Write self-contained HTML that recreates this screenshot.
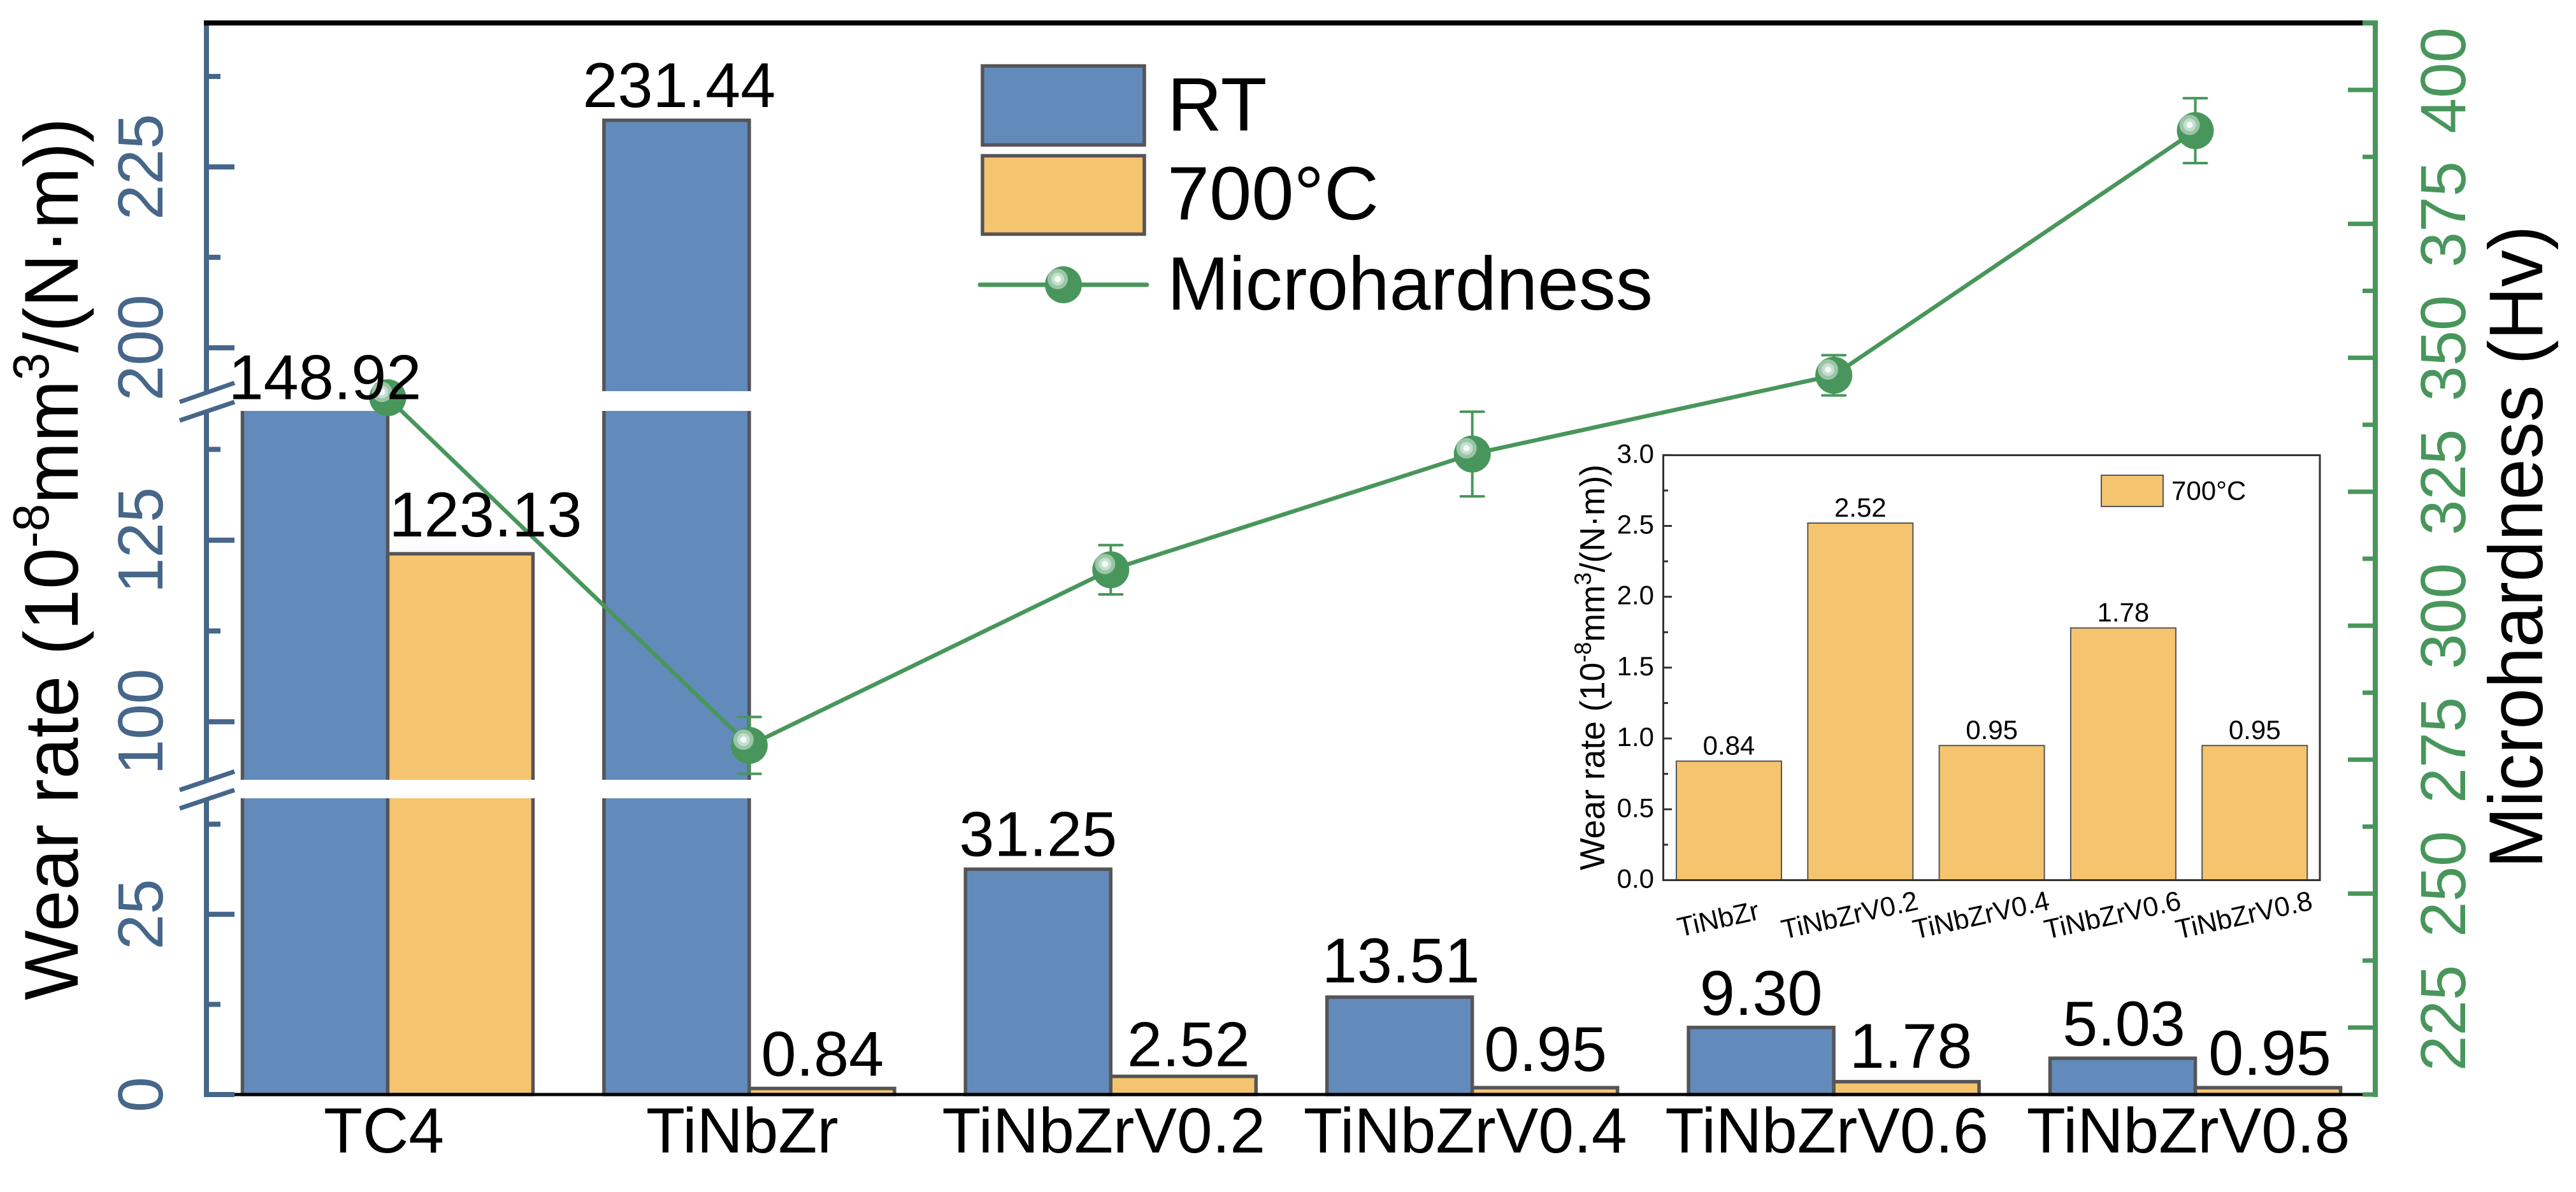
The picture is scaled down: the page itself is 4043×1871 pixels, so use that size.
<!DOCTYPE html>
<html lang="en">
<head>
<meta charset="utf-8">
<title>Wear rate and microhardness chart</title>
<style>
html,body{margin:0;padding:0;background:#fff;}
svg{display:block;font-family:"Liberation Sans",sans-serif;}
</style>
</head>
<body>
<svg id="chart" xmlns="http://www.w3.org/2000/svg" width="4043" height="1871" viewBox="0 0 4043 1871">
<rect x="0" y="0" width="4043" height="1871" fill="#fff"/>
<g id="bars"></g>
<g id="axes"></g>
<g id="inset"></g>
<g id="series"></g>
<g id="labels"></g>

<text transform="translate(122,1570) rotate(-90)" font-size="120" textLength="1385" lengthAdjust="spacingAndGlyphs" fill="#000">Wear rate (10<tspan dy="-46" font-size="80">-8</tspan><tspan dy="46">mm</tspan><tspan dy="-46" font-size="80">3</tspan><tspan dy="46">/(N·m))</tspan></text>
<text transform="translate(3990,1363) rotate(-90)" font-size="120" textLength="1009" lengthAdjust="spacingAndGlyphs" fill="#000">Microhardness (Hv)</text>

<g>
<rect x="1542" y="103.5" width="254" height="124" fill="#628BBB" stroke="#555558" stroke-width="5.5"/>
<rect x="1542" y="244.5" width="254" height="123" fill="#F5C46E" stroke="#555558" stroke-width="5.5"/>
<line x1="1538" y1="447" x2="1800" y2="447" stroke="#48965B" stroke-width="7" stroke-linecap="round"/>
<g>
<circle cx="1669" cy="447" r="29" fill="#48965B"/>
<circle cx="1660" cy="438" r="16" fill="#9BC5A8"/>
<circle cx="1660" cy="438" r="10" fill="#C5DFCE"/>
<circle cx="1660" cy="438" r="5" fill="#F5FBF7"/>
</g>
<text x="1832" y="205" font-size="119" fill="#000">RT</text>
<text x="1832" y="344.5" font-size="119" fill="#000">700°C</text>
<text x="1832" y="486" font-size="119" textLength="762" lengthAdjust="spacingAndGlyphs" fill="#000">Microhardness</text>
</g>
</svg>

<script>
const categories = ["TC4", "TiNbZr", "TiNbZrV0.2", "TiNbZrV0.4", "TiNbZrV0.6", "TiNbZrV0.8"];
const rtValues = [148.92, 231.44, 31.25, 13.51, 9.30, 5.03];
const hotValues = [123.13, 0.84, 2.52, 0.95, 1.78, 0.95];
const hardnessValues = [342.55, 277.66, 310.44, 332.04, 346.74, 392.4];
const hardnessErrors = [2.5, 5.3, 4.6, 7.9, 3.75, 6.06];

const leftMajorTicks = [0, 25, 100, 125, 200, 225];
const leftMinorTicks = [12.5, 37.5, 112.5, 137.5, 212.5, 237.5];
const rightMajorTicks = [225, 250, 275, 300, 325, 350, 375, 400];
const rightMinorTicks = [212.5, 237.5, 262.5, 287.5, 312.5, 337.5, 362.5, 387.5];

const insetCategories = ["TiNbZr", "TiNbZrV0.2", "TiNbZrV0.4", "TiNbZrV0.6", "TiNbZrV0.8"];
const insetValues = [0.84, 2.52, 0.95, 1.78, 0.95];
const insetMajorTicks = [0, 0.5, 1, 1.5, 2, 2.5, 3];
const insetMinorTicks = [0.25, 0.75, 1.25, 1.75, 2.25, 2.75];

const NS = "http://www.w3.org/2000/svg";
const BLUE = "#628BBB", ORANGE = "#F5C46E", EDGE = "#555558", AXIS_BLUE = "#46668A", GREEN = "#48965B";

function make(parent, tag, attrs, text) {
  const el = document.createElementNS(NS, tag);
  for (const k in attrs) el.setAttribute(k, attrs[k]);
  if (text !== undefined) el.textContent = text;
  parent.appendChild(el);
  return el;
}

/* broken left axis: piecewise linear scale, gaps sit between the segments */
const BREAK_DOMAIN = [0, 41, 92, 142.8, 194, 244.9];
const BREAK_RANGE = [1718, 1254, 1224, 645, 614, 36];
function yLeft(v) {
  let i = 0;
  while (i < BREAK_DOMAIN.length - 2 && v > BREAK_DOMAIN[i + 1]) i++;
  const t = (v - BREAK_DOMAIN[i]) / (BREAK_DOMAIN[i + 1] - BREAK_DOMAIN[i]);
  return BREAK_RANGE[i] + t * (BREAK_RANGE[i + 1] - BREAK_RANGE[i]);
}
function yRight(v) { return 1718 - (v - 212.5) * 8.41; }
function xCenter(i) { return 608.5 + 567.4 * i; }
function yInset(v) { return 1381.5 - v * 222.4; }
function xInset(i) { return 2713.5 + 206.3 * i; }

const BAR_W = 228;
const barsG = document.getElementById("bars");
const axesG = document.getElementById("axes");
const seriesG = document.getElementById("series");
const labelsG = document.getElementById("labels");
const insetG = document.getElementById("inset");

/* bars */
categories.forEach(function (c, i) {
  const cx = xCenter(i);
  const yr = yLeft(rtValues[i]);
  const yh = yLeft(hotValues[i]);
  const r = make(barsG, "rect", {x: cx - BAR_W, y: yr, width: BAR_W, height: 1718 - yr, fill: BLUE, stroke: EDGE, "stroke-width": 5.5});
  
  
  const h = make(barsG, "rect", {x: cx, y: yh, width: BAR_W, height: 1718 - yh, fill: ORANGE, stroke: EDGE, "stroke-width": 5.5});
  
  
});

/* white masks for the axis breaks */
const gapLow = make(barsG, "rect", {x: 334, y: 1224, width: 3370, height: 29, fill: "#fff"});


const gapHigh = make(barsG, "rect", {x: 334, y: 614, width: 3370, height: 31, fill: "#fff"});



/* frame lines */
const topLine = make(axesG, "line", {x1: 320, y1: 36, x2: 3710, y2: 36, stroke: "#000", "stroke-width": 8});


const xAxis = make(axesG, "line", {x1: 366, y1: 1718, x2: 3710, y2: 1718, stroke: "#000", "stroke-width": 5});



/* left axis */
[[40, 615], [645, 1225], [1254, 1722]].forEach(function (s) {
  const sp = make(axesG, "line", {x1: 324, y1: s[0], x2: 324, y2: s[1], stroke: AXIS_BLUE, "stroke-width": 8});
  
  
});
[[631, 601], [660, 631], [1240, 1211], [1269, 1240]].forEach(function (s) {
  const b = make(axesG, "line", {x1: 282, y1: s[0], x2: 368, y2: s[1], stroke: AXIS_BLUE, "stroke-width": 7});
  
  
});
leftMajorTicks.forEach(function (v) {
  const y = yLeft(v);
  const t = make(axesG, "line", {x1: 326, y1: y, x2: 368, y2: y, stroke: AXIS_BLUE, "stroke-width": 8});
  
  
  const l = make(axesG, "text", {transform: "translate(255," + y + ") rotate(-90)", "text-anchor": "middle", "font-size": 100, fill: AXIS_BLUE}, String(v));
  
  
});
leftMinorTicks.forEach(function (v) {
  const y = yLeft(v);
  const t = make(axesG, "line", {x1: 326, y1: y, x2: 346, y2: y, stroke: AXIS_BLUE, "stroke-width": 8});
  
  
});

/* right axis */
const rSpine = make(axesG, "line", {x1: 3728, y1: 32, x2: 3728, y2: 1722, stroke: GREEN, "stroke-width": 8});


const rTop = make(axesG, "line", {x1: 3708, y1: 36, x2: 3732, y2: 36, stroke: GREEN, "stroke-width": 8});


rightMajorTicks.forEach(function (v) {
  const y = yRight(v);
  const t = make(axesG, "line", {x1: 3685, y1: y, x2: 3726, y2: y, stroke: GREEN, "stroke-width": 7});
  
  
  const l = make(axesG, "text", {transform: "translate(3869," + (y - 15) + ") rotate(-90)", "text-anchor": "middle", "font-size": 100, fill: GREEN}, String(v));
  
  
});
rightMinorTicks.forEach(function (v) {
  const y = yRight(v);
  const t = make(axesG, "line", {x1: 3708, y1: y, x2: 3726, y2: y, stroke: GREEN, "stroke-width": 7});
  
  
});

/* x labels */
categories.forEach(function (c, i) {
  const l = make(labelsG, "text", {x: xCenter(i) - (i === 0 ? 6 : 11), y: 1809, "text-anchor": "middle", "font-size": 100, fill: "#000"}, c);
  
  
});

/* microhardness line, error bars, markers */
const linePts = hardnessValues.map(function (v, i) { return xCenter(i) + "," + yRight(v); }).join(" ");
const hl = make(seriesG, "polyline", {points: linePts, fill: "none", stroke: GREEN, "stroke-width": 6.5});


hardnessValues.forEach(function (v, i) {
  const x = xCenter(i);
  const top = yRight(v + hardnessErrors[i]);
  const bot = yRight(v - hardnessErrors[i]);
  const y = yRight(v);
  const g = make(seriesG, "g", {});
  
  
  make(g, "line", {x1: x, y1: top, x2: x, y2: bot, stroke: GREEN, "stroke-width": 4});
  make(g, "line", {x1: x - 18, y1: top, x2: x + 18, y2: top, stroke: GREEN, "stroke-width": 4, "stroke-linecap": "round"});
  make(g, "line", {x1: x - 18, y1: bot, x2: x + 18, y2: bot, stroke: GREEN, "stroke-width": 4, "stroke-linecap": "round"});
  make(g, "circle", {cx: x, cy: y, r: 29, fill: GREEN});
  make(g, "circle", {cx: x - 9, cy: y - 9, r: 16, fill: "#9BC5A8"});
  make(g, "circle", {cx: x - 9, cy: y - 9, r: 10, fill: "#C5DFCE"});
  make(g, "circle", {cx: x - 9, cy: y - 9, r: 5, fill: "#F5FBF7"});
});

/* value labels: hand-placed offsets from each bar */
const rtNudgeX = [15.5, 4, 0, 2, 0, 2], rtNudgeY = [-15, -21, -21, -23, -20, -20];
const hotNudgeX = [39.5, 1, 8, 1, 7, 3], hotNudgeY = [-27, -20, -16, -26, -22, -20];
rtValues.forEach(function (v, i) {
  const l = make(labelsG, "text", {x: xCenter(i) - 114 + rtNudgeX[i], y: yLeft(v) + rtNudgeY[i], "text-anchor": "middle", "font-size": 99, fill: "#000"}, v.toFixed(2));
  
  
});
hotValues.forEach(function (v, i) {
  const l = make(labelsG, "text", {x: xCenter(i) + 114 + hotNudgeX[i], y: yLeft(v) + hotNudgeY[i], "text-anchor": "middle", "font-size": 99, fill: "#000"}, v.toFixed(2));
  
  
});

/* inset */
const INK = "#333";
insetValues.forEach(function (v, i) {
  const x = xInset(i);
  const y = yInset(v);
  const b = make(insetG, "rect", {x: x - 82.5, y: y, width: 165, height: 1381.5 - y, fill: ORANGE, stroke: EDGE, "stroke-width": 2});
  
  
  const l = make(insetG, "text", {x: x, y: y - 10, "text-anchor": "middle", "font-size": 42, fill: "#000"}, v.toFixed(2));
  
  
  const cx = x - 17;
  const cy = 1436 + (i === 0 ? 6 : 0);
  const c = make(insetG, "text", {transform: "translate(" + cx + "," + cy + ") rotate(-12.5)", y: 15, "text-anchor": "middle", "font-size": 43, fill: "#000"}, insetCategories[i]);
  
  
});
const frame = make(insetG, "rect", {x: 2610.5, y: 714.5, width: 1030.5, height: 667, fill: "none", stroke: INK, "stroke-width": 3});


insetMajorTicks.forEach(function (v) {
  const y = yInset(v);
  const t = make(insetG, "line", {x1: 2610, y1: y, x2: 2624, y2: y, stroke: INK, "stroke-width": 3});
  
  
  const l = make(insetG, "text", {x: 2596, y: y + 12, "text-anchor": "end", "font-size": 42, fill: "#000"}, v.toFixed(1));
  
  
});
insetMinorTicks.forEach(function (v) {
  const y = yInset(v);
  const t = make(insetG, "line", {x1: 2610, y1: y, x2: 2618, y2: y, stroke: INK, "stroke-width": 3});
  
  
});
const insetSwatch = make(insetG, "rect", {x: 3298, y: 746, width: 97, height: 49, fill: ORANGE, stroke: EDGE, "stroke-width": 2});


const insetLegend = make(insetG, "text", {x: 3408, y: 784.5, "font-size": 42, fill: "#000"}, "700°C");


const insetTitle = make(insetG, "text", {transform: "translate(2518,1366) rotate(-90)", "font-size": 55, textLength: 637, lengthAdjust: "spacingAndGlyphs", fill: "#000"});


insetTitle.appendChild(document.createTextNode("Wear rate (10"));
make(insetTitle, "tspan", {dy: -21, "font-size": 37}, "-8");
make(insetTitle, "tspan", {dy: 21}, "mm");
make(insetTitle, "tspan", {dy: -21, "font-size": 37}, "3");
make(insetTitle, "tspan", {dy: 21}, "/(N·m))");
</script>
</body>
</html>
